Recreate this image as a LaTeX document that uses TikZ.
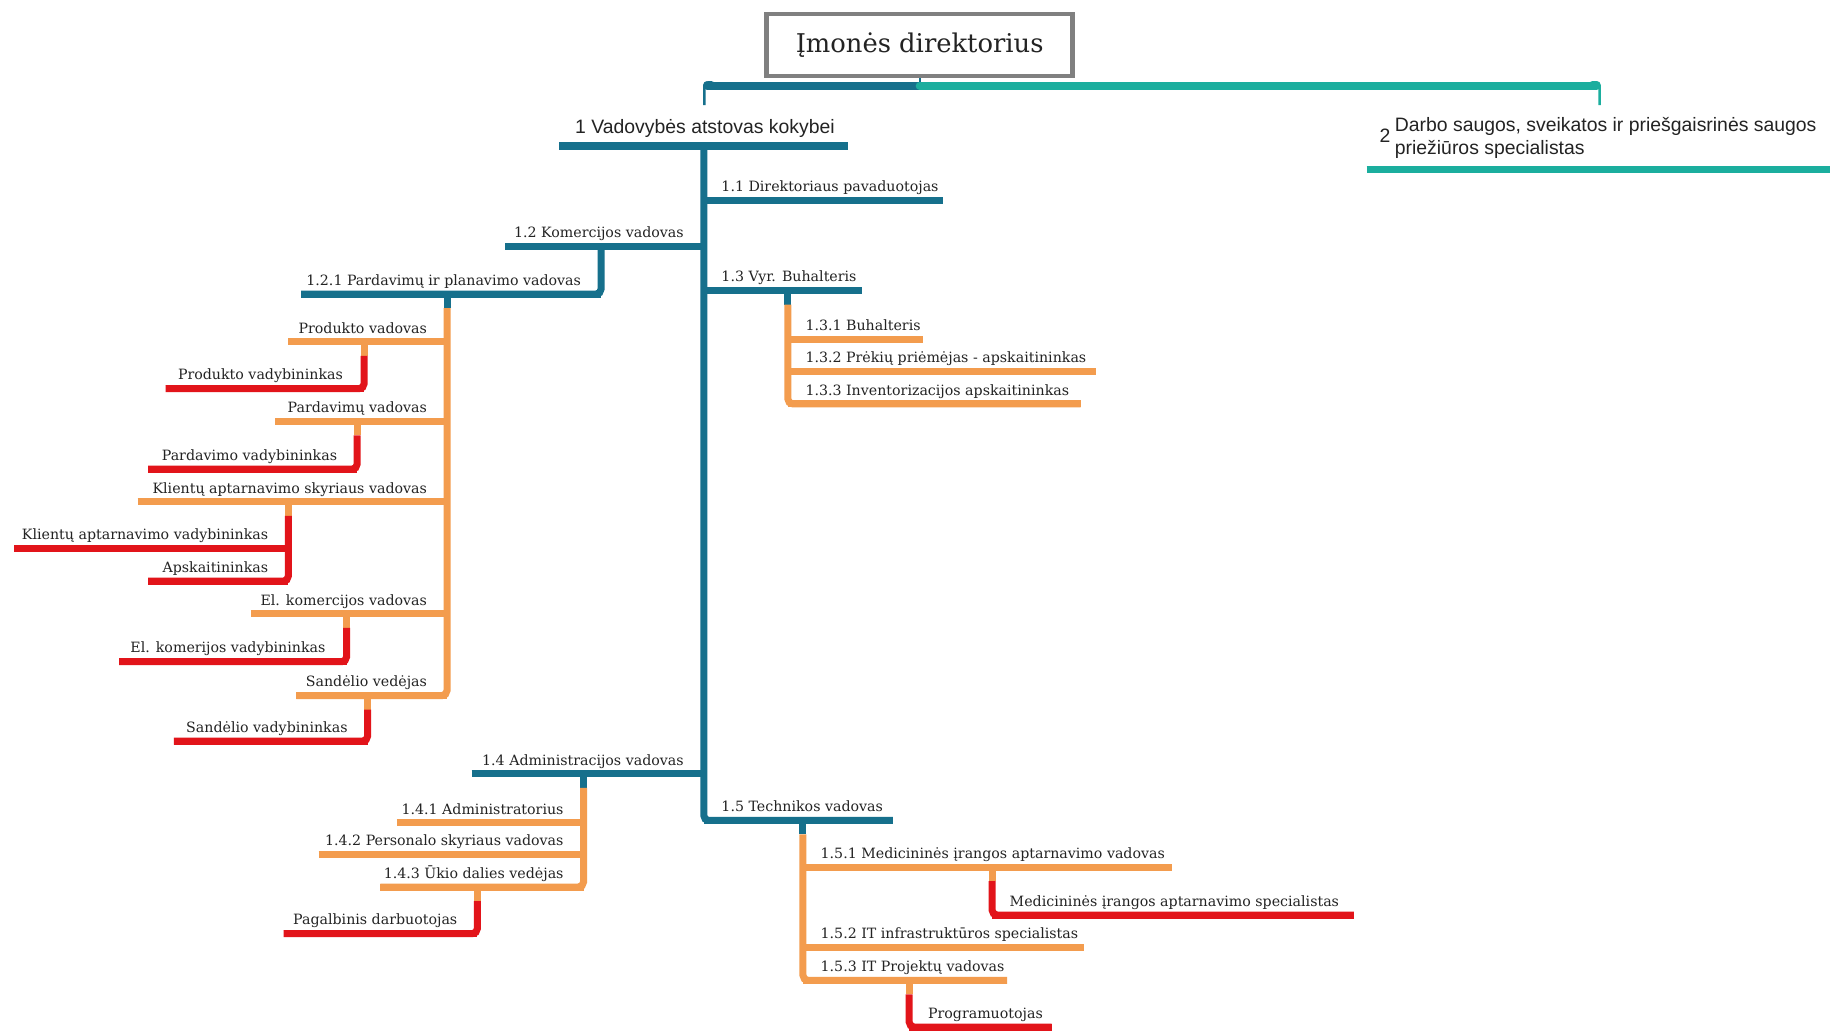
\documentclass[tikz,border=0pt]{standalone}
\usepackage{fontspec}
\newfontfamily\slab{DejaVu Serif}
\newfontfamily\plain{Liberation Sans}
\definecolor{blu}{RGB}{22,112,140}
\definecolor{tea}{RGB}{27,174,158}
\definecolor{orng}{RGB}{243,156,78}
\definecolor{rd}{RGB}{226,20,26}
\definecolor{boxg}{RGB}{128,128,128}
\definecolor{txt}{RGB}{35,35,35}

\tikzset{
  lab/.style={font=\slab\fontsize{14.2}{16}\selectfont, text=txt, inner sep=0pt},
  labL/.style={lab, anchor=base east},
  labR/.style={lab, anchor=base west},
  toplab/.style={font=\plain\fontsize{19.4}{22}\selectfont, text=txt, inner sep=0pt},
  bar/.style={draw=#1, line width=7pt},
  conn/.style={draw=#1, line width=7pt},
}

% unit whose text sits left of its junction:
% name, colour, text right x, bar y, bar left x, junction x, text
\newcommand{\LeftUnit}[7]{%
  \coordinate (#1-e) at (#5,#4);
  \coordinate (#1-j) at (#6,#4);
  \draw[bar=#2] (#1-e) -- (#1-j);
  \node[labL] (#1) at (#3,#4-7.5) {#7};
}
% unit whose text sits right of its junction:
% name, colour, text left x, bar y, junction x, bar right x, text
\newcommand{\RightUnit}[7]{%
  \coordinate (#1-j) at (#5,#4);
  \coordinate (#1-e) at (#6,#4);
  \draw[bar=#2] (#1-j) -- (#1-e);
  \node[labR] (#1) at (#3,#4-7.5) {#7};
}
% branch: parent colour, child colour, start on parent bar, last child junction, last child far end
\newcommand{\Branch}[5]{%
  \draw[conn=#1] (#3) -- ++(0,12) coordinate (#3-s);
  \draw[conn=#2, rounded corners=5pt] (#3-s) -- (#4) -- (#5);
}

\begin{document}
\begin{tikzpicture}[x=1.1671pt,y=-1.1671pt]
\fill[white] (0,0) rectangle (1568,882.6);
\useasboundingbox (0,0) rectangle (1568,882.6);

% ---- director
\node[draw=boxg, line width=4.5pt, minimum width=306pt, minimum height=62pt,
      font=\slab\fontsize{25.8}{28}\selectfont, text=txt] (t) at (788,38.5) {Įmonės direktorius};
\coordinate (hub) at (788,73.5);
\coordinate (hubL) at (606,73.5);
\coordinate (hubR) at (1368,73.5);
\coordinate (d1) at (603.5,90);
\coordinate (d2) at (1370.5,90);
\draw[blu, line width=2pt] (t.south) -- (hub);
\draw[blu, line width=8pt, line cap=round] (hub) -- (hubL);
\draw[tea, line width=8pt, line cap=round] (hub) -- (hubR);
\draw[blu, line width=2.5pt, rounded corners=3pt] (hubL) ++(0,-3) -| (d1);
\draw[tea, line width=2.5pt, rounded corners=3pt] (hubR) ++(0,-3) -| (d2);

% ---- level 1
\node[toplab, anchor=base] (n1) at (604,114) {1 Vadovybės atstovas kokybei};
\coordinate (n1-l) at (479,125);
\coordinate (n1-r) at (727,125);
\coordinate (n1-d) at (603,125);
\draw[blu, line width=7.5pt] (n1-l) -- (n1-r);

\node[toplab, anchor=base east] (n2num) at (1191.5,122.5) {2};
\node[toplab, anchor=base west] (n2) at (1195,112.8) {Darbo saugos, sveikatos ir priešgaisrinės saugos};
\node[toplab, anchor=base west] (n2b) at (1195,132.4) {priežiūros specialistas};
\coordinate (n2-l) at (1171,145);
\coordinate (n2-r) at (1568,145);
\draw[tea, line width=7pt] (n2-l) -- (n2-r);

% ---- level 2 (on the trunk)
\RightUnit{n11}{blu}{618}{172}{603}{808}{1.1 Direktoriaus pavaduotojas}
\LeftUnit{n12}{blu}{586}{211}{433}{603}{1.2 Komercijos vadovas}
\RightUnit{n13}{blu}{618}{249}{603}{739}{1.3 Vyr. Buhalteris}
\LeftUnit{n14}{blu}{586}{663}{404}{603}{1.4 Administracijos vadovas}
\RightUnit{n15}{blu}{618}{703}{603}{765}{1.5 Technikos vadovas}
\draw[conn=blu, rounded corners=5pt] (n1-d) -- (n15-j) -- (n15-e);

% ---- 1.2 Komercijos vadovas
\coordinate (n12-d) at (515,211);
\LeftUnit{n121}{blu}{498}{252}{258}{515}{1.2.1 Pardavimų ir planavimo vadovas}
\draw[conn=blu, rounded corners=5pt] (n12-d) -- (n121-j) -- (n121-e);

\coordinate (n121-d) at (383,252);
\LeftUnit{pv}{orng}{366}{293}{247}{383}{Produkto vadovas}
\LeftUnit{pdv}{orng}{366}{361}{236}{383}{Pardavimų vadovas}
\LeftUnit{kv}{orng}{366}{430}{118}{383}{Klientų aptarnavimo skyriaus vadovas}
\LeftUnit{ek}{orng}{366}{526}{215}{383}{El. komercijos vadovas}
\LeftUnit{sv}{orng}{366}{596}{254}{383}{Sandėlio vedėjas}
\Branch{blu}{orng}{n121-d}{sv-j}{sv-e}

\coordinate (pv-d) at (312,293);
\LeftUnit{pvv}{rd}{294}{333}{142}{312}{Produkto vadybininkas}
\Branch{orng}{rd}{pv-d}{pvv-j}{pvv-e}

\coordinate (pdv-d) at (306,361);
\LeftUnit{pdvv}{rd}{289}{402}{127}{306}{Pardavimo vadybininkas}
\Branch{orng}{rd}{pdv-d}{pdvv-j}{pdvv-e}

\coordinate (kv-d) at (247,430);
\LeftUnit{kvv}{rd}{230}{470}{12}{247}{Klientų aptarnavimo vadybininkas}
\LeftUnit{ap}{rd}{230}{498}{127}{247}{Apskaitininkas}
\Branch{orng}{rd}{kv-d}{ap-j}{ap-e}

\coordinate (ek-d) at (297,526);
\LeftUnit{ekv}{rd}{279}{567}{102}{297}{El. komerijos vadybininkas}
\Branch{orng}{rd}{ek-d}{ekv-j}{ekv-e}

\coordinate (sv-d) at (315,596);
\LeftUnit{svv}{rd}{298}{635}{149}{315}{Sandėlio vadybininkas}
\Branch{orng}{rd}{sv-d}{svv-j}{svv-e}

% ---- 1.3 Vyr. Buhalteris
\coordinate (n13-d) at (675,249);
\RightUnit{n131}{orng}{690}{291}{675}{791}{1.3.1 Buhalteris}
\RightUnit{n132}{orng}{690}{318}{675}{939}{1.3.2 Prėkių priėmėjas - apskaitininkas}
\RightUnit{n133}{orng}{690}{346}{675}{926}{1.3.3 Inventorizacijos apskaitininkas}
\Branch{blu}{orng}{n13-d}{n133-j}{n133-e}

% ---- 1.4 Administracijos vadovas
\coordinate (n14-d) at (500,663);
\LeftUnit{n141}{orng}{483}{705}{340}{500}{1.4.1 Administratorius}
\LeftUnit{n142}{orng}{483}{732}{273}{500}{1.4.2 Personalo skyriaus vadovas}
\LeftUnit{n143}{orng}{483}{760}{326}{500}{1.4.3 Ūkio dalies vedėjas}
\Branch{blu}{orng}{n14-d}{n143-j}{n143-e}

\coordinate (n143-d) at (409,760);
\LeftUnit{pd}{rd}{392}{800}{243}{409}{Pagalbinis darbuotojas}
\Branch{orng}{rd}{n143-d}{pd-j}{pd-e}

% ---- 1.5 Technikos vadovas
\coordinate (n15-d) at (688,703);
\RightUnit{n151}{orng}{703}{743}{688}{1004}{1.5.1 Medicininės įrangos aptarnavimo vadovas}
\RightUnit{n152}{orng}{703}{812}{688}{929}{1.5.2 IT infrastruktūros specialistas}
\RightUnit{n153}{orng}{703}{840}{688}{863}{1.5.3 IT Projektų vadovas}
\Branch{blu}{orng}{n15-d}{n153-j}{n153-e}

\coordinate (n151-d) at (850,743);
\RightUnit{ms}{rd}{865}{784}{850}{1160}{Medicininės įrangos aptarnavimo specialistas}
\Branch{orng}{rd}{n151-d}{ms-j}{ms-e}

\coordinate (n153-d) at (779,840);
\RightUnit{pr}{rd}{795}{880}{779}{901}{Programuotojas}
\Branch{orng}{rd}{n153-d}{pr-j}{pr-e}
\end{tikzpicture}
\end{document}
